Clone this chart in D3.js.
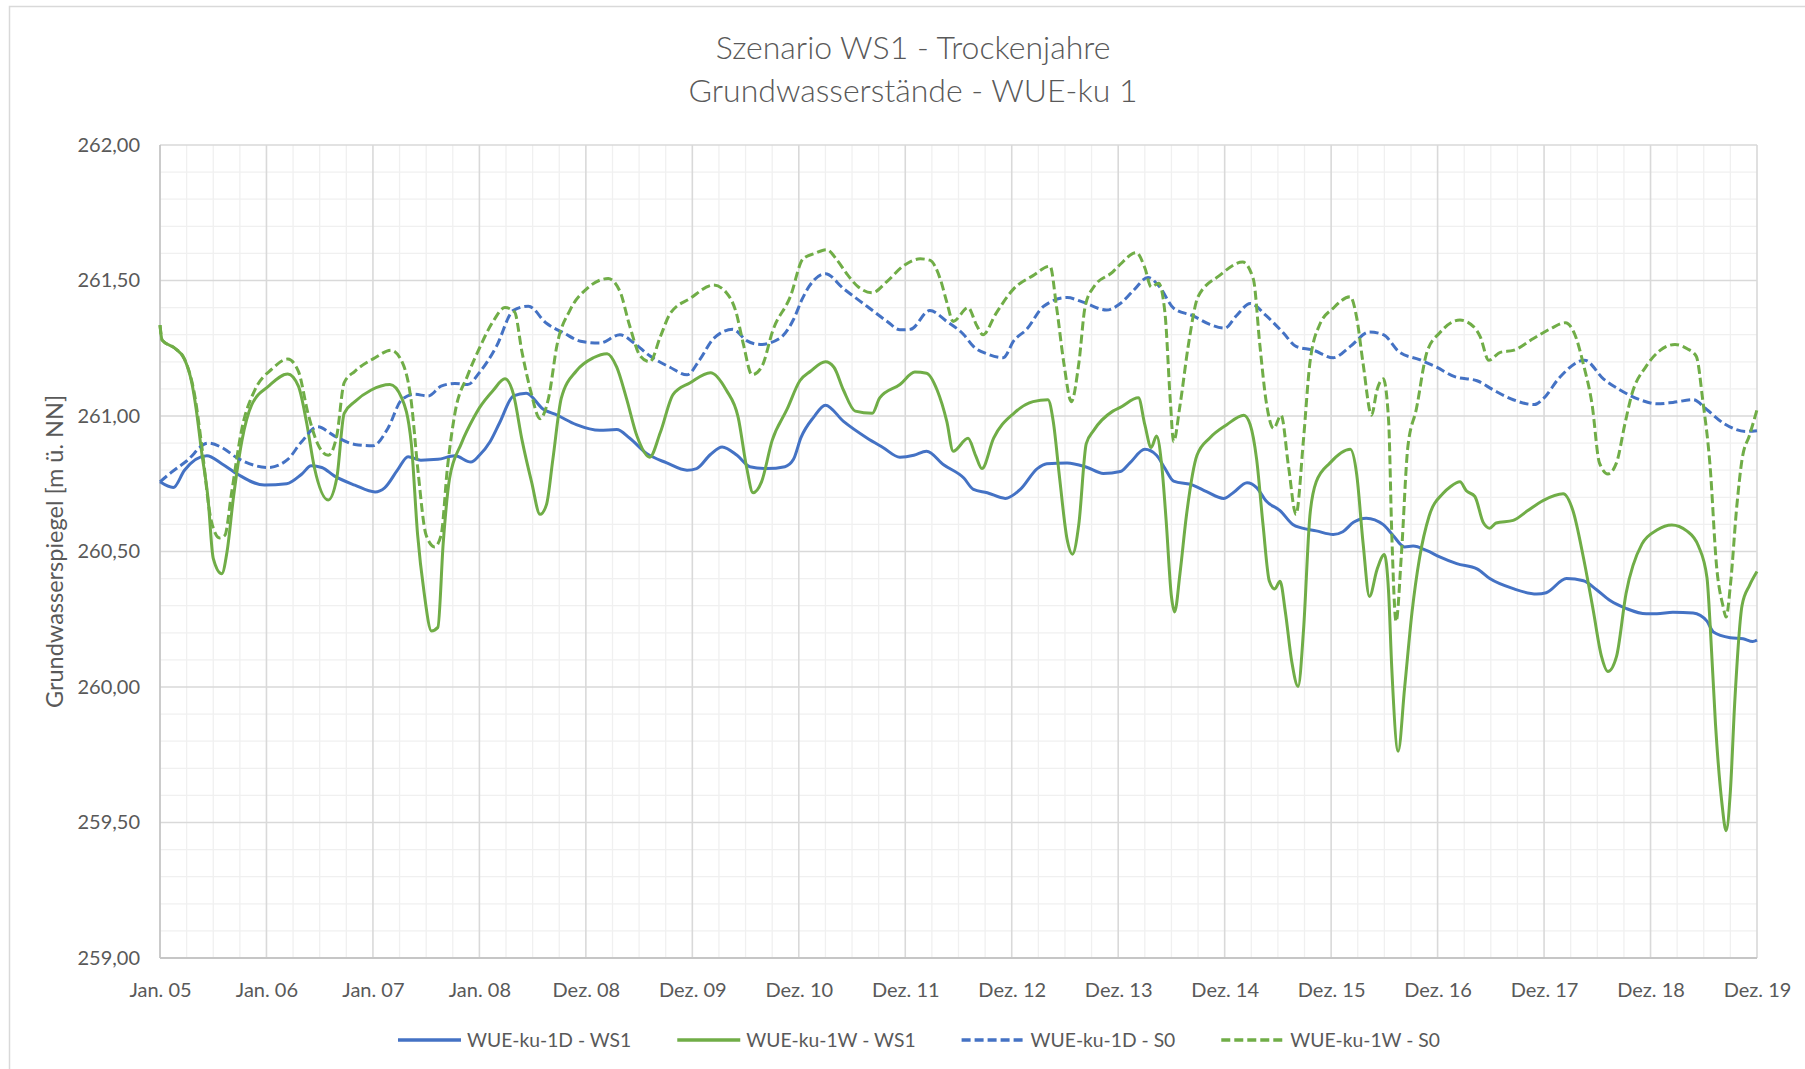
<!DOCTYPE html>
<html><head><meta charset="utf-8">
<script src="https://cdn.jsdelivr.net/npm/d3@7"></script>
<style>
html,body{margin:0;padding:0;background:#fff;}
text{font-family:Lato,"Open Sans","DejaVu Sans",sans-serif;fill:#595959;}
</style></head>
<body>
<svg id="chart" width="1805" height="1069"></svg>
<script>
// ---------- data (time in years since Jan. 05, value in m ü. NN) ----------
const xTickLabels = ["Jan. 05","Jan. 06","Jan. 07","Jan. 08","Dez. 08","Dez. 09","Dez. 10","Dez. 11","Dez. 12","Dez. 13","Dez. 14","Dez. 15","Dez. 16","Dez. 17","Dez. 18","Dez. 19"];
const yTickValues = [259,259.5,260,260.5,261,261.5,262];
const seriesNames = ["WUE-ku-1D - WS1","WUE-ku-1W - WS1","WUE-ku-1D - S0","WUE-ku-1W - S0"];

const t_1D_WS1 = [0,0.125,0.23,0.44,0.58,0.73,0.98,1.19,1.33,1.42,1.52,1.64,1.83,2.02,2.11,2.23,2.33,2.45,2.61,2.77,2.92,3.0,3.1,3.19,3.32,3.44,3.6,3.73,3.91,4.13,4.29,4.41,4.57,4.76,4.95,5.04,5.17,5.28,5.42,5.54,5.7,5.87,5.95,6.02,6.14,6.25,6.42,6.64,6.79,6.95,7.08,7.2,7.36,7.55,7.64,7.77,7.94,8.08,8.24,8.33,8.52,8.71,8.86,9.02,9.11,9.25,9.36,9.44,9.52,9.7,9.83,9.99,10.08,10.21,10.3,10.39,10.52,10.64,10.72,10.86,11.02,11.11,11.21,11.33,11.49,11.58,11.69,11.77,11.9,12.02,12.18,12.37,12.49,12.71,12.93,13.02,13.21,13.37,13.49,13.62,13.77,13.96,14.06,14.21,14.4,14.53,14.59,14.75,14.87,14.96,15];
const v_1D_WS1 = [260.757,260.736,260.80,260.853,260.824,260.785,260.745,260.75,260.785,260.816,260.81,260.778,260.745,260.72,260.735,260.80,260.85,260.837,260.84,260.853,260.83,260.855,260.905,260.975,261.074,261.084,261.025,261.003,260.968,260.947,260.95,260.919,260.862,260.827,260.80,260.806,260.858,260.886,260.855,260.813,260.806,260.813,260.84,260.92,260.996,261.04,260.98,260.919,260.884,260.848,260.855,260.87,260.82,260.771,260.729,260.717,260.696,260.729,260.806,260.824,260.827,260.81,260.788,260.795,260.827,260.877,260.855,260.806,260.76,260.745,260.721,260.696,260.717,260.754,260.736,260.686,260.651,260.60,260.587,260.576,260.563,260.573,260.608,260.623,260.599,260.56,260.517,260.52,260.503,260.48,260.455,260.436,260.40,260.363,260.343,260.348,260.40,260.392,260.36,260.319,260.29,260.27,260.27,260.276,260.273,260.243,260.203,260.182,260.178,260.168,260.173];

const t_1W_WS1 = [0,0.02,0.14,0.23,0.3,0.34,0.39,0.45,0.5,0.58,0.63,0.69,0.77,0.86,1.02,1.2,1.3,1.375,1.45,1.58,1.66,1.73,1.83,1.98,2.16,2.27,2.36,2.42,2.48,2.55,2.61,2.66,2.72,2.83,2.95,3.0,3.13,3.24,3.32,3.4,3.49,3.57,3.63,3.69,3.77,3.91,4.07,4.2,4.29,4.38,4.48,4.6,4.7,4.82,4.98,5.17,5.32,5.43,5.51,5.57,5.65,5.75,5.89,6.01,6.11,6.25,6.33,6.42,6.53,6.69,6.76,6.95,7.09,7.2,7.3,7.39,7.45,7.59,7.66,7.72,7.83,8.02,8.2,8.34,8.39,8.45,8.52,8.57,8.63,8.7,8.77,8.95,9.02,9.19,9.25,9.31,9.36,9.41,9.45,9.5,9.53,9.58,9.64,9.74,9.86,10.02,10.18,10.24,10.3,10.36,10.42,10.47,10.52,10.57,10.63,10.69,10.74,10.8,10.86,10.99,11.18,11.24,11.3,11.36,11.43,11.5,11.54,11.57,11.63,11.69,11.76,11.83,11.92,12.05,12.12,12.21,12.27,12.35,12.43,12.49,12.55,12.71,12.84,12.99,13.18,13.27,13.37,13.46,13.54,13.6,13.68,13.77,13.92,14.06,14.2,14.34,14.45,14.53,14.56,14.61,14.67,14.71,14.75,14.79,14.86,14.93,15];
const v_1W_WS1 = [261.335,261.28,261.25,261.21,261.12,261.025,260.87,260.70,260.475,260.418,260.50,260.70,260.91,261.04,261.11,261.155,261.11,260.98,260.81,260.69,260.77,261.01,261.053,261.095,261.116,261.067,260.90,260.56,260.35,260.207,260.22,260.53,260.77,260.898,260.996,261.03,261.095,261.137,261.08,260.912,260.757,260.637,260.673,260.84,261.067,261.166,261.215,261.23,261.18,261.067,260.926,260.848,260.94,261.08,261.123,261.16,261.095,260.996,260.81,260.717,260.757,260.91,261.025,261.13,261.165,261.2,261.18,261.095,261.018,261.01,261.067,261.116,261.162,261.158,261.095,260.98,260.87,260.918,260.855,260.806,260.918,261.01,261.053,261.06,260.98,260.77,260.545,260.49,260.60,260.898,260.947,261.018,261.032,261.067,260.968,260.884,260.926,260.813,260.616,260.334,260.277,260.418,260.63,260.855,260.919,260.968,261.003,260.968,260.841,260.60,260.39,260.362,260.39,260.277,260.094,260.002,260.206,260.63,260.757,260.827,260.877,260.785,260.531,260.334,260.432,260.489,260.348,260.066,259.763,259.996,260.277,260.475,260.63,260.714,260.739,260.757,260.724,260.703,260.606,260.586,260.605,260.615,260.649,260.688,260.713,260.652,260.477,260.287,260.112,260.057,260.112,260.345,260.528,260.579,260.598,260.576,260.52,260.404,260.229,259.864,259.573,259.47,259.616,259.937,260.302,260.375,260.426];

const t_1D_S0 = [0,0.1,0.25,0.45,0.58,0.73,1.02,1.2,1.33,1.48,1.64,1.83,2.0,2.14,2.27,2.39,2.52,2.64,2.77,2.89,3.0,3.16,3.32,3.46,3.63,3.79,3.95,4.13,4.32,4.45,4.6,4.79,4.95,5.07,5.2,5.38,5.51,5.64,5.82,5.95,6.03,6.1,6.25,6.42,6.64,6.83,6.95,7.05,7.23,7.39,7.55,7.64,7.77,7.92,8.02,8.14,8.3,8.52,8.67,8.89,9.02,9.14,9.28,9.39,9.52,9.7,9.86,10.0,10.11,10.24,10.39,10.55,10.67,10.83,11.02,11.18,11.36,11.49,11.64,11.83,11.99,12.16,12.37,12.52,12.71,12.91,12.99,13.15,13.38,13.56,13.71,13.9,14.06,14.21,14.4,14.53,14.69,14.9,15];
const v_1D_S0 = [260.757,260.79,260.834,260.90,260.884,260.844,260.81,260.84,260.905,260.96,260.926,260.895,260.89,260.954,261.06,261.08,261.074,261.11,261.12,261.116,261.16,261.257,261.39,261.405,261.342,261.307,261.276,261.269,261.30,261.27,261.222,261.18,261.152,261.208,261.286,261.32,261.278,261.264,261.286,261.356,261.43,261.48,261.525,261.47,261.405,261.349,261.318,261.32,261.389,261.349,261.30,261.257,261.229,261.215,261.278,261.32,261.405,261.437,261.42,261.391,261.415,261.462,261.511,261.476,261.398,261.37,261.338,261.324,261.37,261.415,261.37,261.307,261.257,261.243,261.215,261.257,261.31,261.30,261.236,261.208,261.18,261.145,261.13,261.097,261.06,261.042,261.063,261.144,261.206,261.136,261.097,261.06,261.045,261.05,261.06,261.023,260.972,260.943,260.946];

const t_1W_S0 = [0,0.02,0.14,0.23,0.33,0.39,0.48,0.56,0.61,0.67,0.77,0.89,1.05,1.2,1.3,1.39,1.48,1.58,1.66,1.73,1.83,2.02,2.17,2.28,2.36,2.42,2.5,2.58,2.64,2.7,2.77,2.89,3.0,3.13,3.24,3.33,3.4,3.48,3.57,3.65,3.73,3.85,4.01,4.21,4.32,4.41,4.51,4.6,4.7,4.79,4.98,5.2,5.32,5.41,5.48,5.56,5.65,5.76,5.92,6.04,6.15,6.26,6.36,6.45,6.56,6.69,6.83,6.98,7.14,7.23,7.33,7.39,7.45,7.59,7.67,7.73,7.85,8.02,8.2,8.36,8.42,8.49,8.56,8.63,8.69,8.77,8.95,9.02,9.17,9.25,9.31,9.38,9.44,9.49,9.52,9.58,9.66,9.75,9.95,10.17,10.27,10.33,10.39,10.46,10.53,10.6,10.67,10.74,10.8,10.89,11.02,11.18,11.24,11.3,11.38,11.43,11.49,11.54,11.57,11.61,11.66,11.72,11.8,11.9,12.02,12.21,12.34,12.4,12.48,12.59,12.71,12.9,13.06,13.2,13.29,13.37,13.45,13.52,13.6,13.68,13.76,13.82,13.96,14.09,14.23,14.34,14.43,14.49,14.56,14.62,14.68,14.71,14.75,14.81,14.86,14.93,15];
const v_1W_S0 = [261.335,261.28,261.25,261.21,261.067,260.897,260.616,260.55,260.56,260.71,260.955,261.095,261.173,261.21,261.165,261.01,260.898,260.855,260.926,261.123,261.165,261.215,261.243,261.194,261.053,260.81,260.56,260.517,260.56,260.81,261.01,261.15,261.25,261.35,261.4,261.384,261.236,261.095,260.99,261.067,261.264,261.39,261.47,261.507,261.46,261.335,261.222,261.2,261.293,261.377,261.434,261.483,261.455,261.384,261.264,261.152,261.18,261.32,261.44,261.58,261.6,261.614,261.575,261.525,261.476,261.455,261.497,261.553,261.58,261.575,261.504,261.42,261.349,261.4,261.335,261.30,261.377,261.47,261.518,261.553,261.405,261.194,261.053,261.194,261.405,261.476,261.532,261.56,261.603,261.547,261.476,261.49,261.377,261.053,260.905,261.038,261.264,261.44,261.518,261.568,261.504,261.264,261.053,260.954,261.003,260.813,260.637,260.912,261.194,261.335,261.398,261.44,261.363,261.194,261.003,261.095,261.137,260.982,260.56,260.242,260.489,260.884,261.025,261.236,261.307,261.354,261.329,261.293,261.206,261.235,261.242,261.286,261.322,261.344,261.30,261.19,261.045,260.827,260.786,260.827,260.972,261.074,261.184,261.242,261.264,261.249,261.22,261.06,260.812,260.447,260.30,260.258,260.375,260.666,260.841,260.929,261.023];

// ---------- chart ----------
const BLUE = "#4472C4", GREEN = "#70AD47";
const series = [
  {name: seriesNames[0], t: t_1D_WS1, v: v_1D_WS1, color: BLUE,  dash: null},
  {name: seriesNames[1], t: t_1W_WS1, v: v_1W_WS1, color: GREEN, dash: null},
  {name: seriesNames[2], t: t_1D_S0,  v: v_1D_S0,  color: BLUE,  dash: "9,4"},
  {name: seriesNames[3], t: t_1W_S0,  v: v_1W_S0,  color: GREEN, dash: "9,4"}
];

const svg = d3.select("#chart");
svg.append("rect").attr("width",1805).attr("height",1069).attr("fill","#fff");
// chart-area frame (top + left visible)
svg.append("rect").attr("x",9.5).attr("y",6.5).attr("width",1830).attr("height",1100)
  .attr("fill","none").attr("stroke","#d9d9d9").attr("stroke-width",1.5);

const L = 160, R = 1757, T = 145, B = 958;
const x = d3.scaleLinear().domain([0, xTickLabels.length - 1]).range([L, R]);
const y = d3.scaleLinear().domain([259, 262]).range([B, T]);

const de = d3.formatLocale({decimal: ",", thousands: ".", grouping: [3], currency: ["", " €"]});
const fmt = de.format(".2f");

// grid
const g = svg.append("g");
const minorY = d3.range(0, 31).map(i => 259 + i * 0.1).filter((v, i) => i % 5 !== 0);
const minorX = d3.range(0, 61).filter(i => i % 4 !== 0).map(i => i / 4);
g.selectAll(".mx").data(minorX).join("line")
  .attr("x1", d => x(d)).attr("x2", d => x(d)).attr("y1", T).attr("y2", B)
  .attr("stroke", "#f0f0f0").attr("stroke-width", 1.3);
g.selectAll(".my").data(minorY).join("line")
  .attr("x1", L).attr("x2", R).attr("y1", d => y(d)).attr("y2", d => y(d))
  .attr("stroke", "#f0f0f0").attr("stroke-width", 1.3);
g.selectAll(".Mx").data(d3.range(1, xTickLabels.length)).join("line")
  .attr("x1", d => x(d)).attr("x2", d => x(d)).attr("y1", T).attr("y2", B)
  .attr("stroke", "#d9d9d9").attr("stroke-width", 1.6);
g.selectAll(".My").data(yTickValues.slice(1)).join("line")
  .attr("x1", L).attr("x2", R).attr("y1", d => y(d)).attr("y2", d => y(d))
  .attr("stroke", "#d9d9d9").attr("stroke-width", 1.6);
// axis lines
g.append("line").attr("x1", L).attr("x2", L).attr("y1", T).attr("y2", B).attr("stroke", "#c6c6c6").attr("stroke-width", 1.8);
g.append("line").attr("x1", L).attr("x2", R).attr("y1", B).attr("y2", B).attr("stroke", "#c6c6c6").attr("stroke-width", 1.8);

// axes
const yAxis = svg.append("g").attr("transform", `translate(${L},0)`)
  .call(d3.axisLeft(y).tickValues(yTickValues).tickFormat(fmt).tickSize(0).tickPadding(20));
yAxis.select(".domain").remove();
yAxis.selectAll("text").style("font-size", "20px").style("fill", "#595959").style("font-family", "Lato, sans-serif");

const xAxis = svg.append("g").attr("transform", `translate(0,${B})`)
  .call(d3.axisBottom(x).tickValues(d3.range(xTickLabels.length)).tickFormat(i => xTickLabels[i]).tickSize(0).tickPadding(25));
xAxis.select(".domain").remove();
xAxis.selectAll("text").style("font-size", "20px").style("fill", "#595959").style("font-family", "Lato, sans-serif");

// lines
const line = d3.line().curve(d3.curveMonotoneX);
series.forEach(s => {
  const pts = s.t.map((t, i) => [x(t), y(s.v[i])]);
  svg.append("path").attr("d", line(pts)).attr("fill", "none")
    .attr("stroke", s.color).attr("stroke-width", 3)
    .attr("stroke-linejoin", "round")
    .attr("stroke-dasharray", s.dash);
});

// titles
svg.append("text").attr("x", 913).attr("y", 59).attr("text-anchor", "middle")
  .style("font-size", "32px").style("font-weight", 300).text("Szenario WS1 - Trockenjahre");
svg.append("text").attr("x", 913).attr("y", 102).attr("text-anchor", "middle")
  .style("font-size", "32px").style("font-weight", 300).text("Grundwasserstände - WUE-ku 1");
svg.append("text").attr("transform", `translate(63,${(T + B) / 2}) rotate(-90)`)
  .attr("text-anchor", "middle").style("font-size", "23.5px").text("Grundwasserspiegel [m ü. NN]");

// legend
const lg = svg.append("g");
const items = series.map(s => {
  const it = lg.append("g");
  it.append("line").attr("x1", 0).attr("x2", 63).attr("y1", 0).attr("y2", 0)
    .attr("stroke", s.color).attr("stroke-width", 3.5).attr("stroke-dasharray", s.dash);
  const tx = it.append("text").attr("x", 69).attr("y", 7).style("font-size", "19.3px").text(s.name);
  return {it, w: 69 + tx.node().getComputedTextLength()};
});
const gap = 46;
const total = d3.sum(items, d => d.w) + gap * (items.length - 1);
let cx = 919 - total / 2;
items.forEach(d => { d.it.attr("transform", `translate(${cx},1040)`); cx += d.w + gap; });
</script>
</body></html>
